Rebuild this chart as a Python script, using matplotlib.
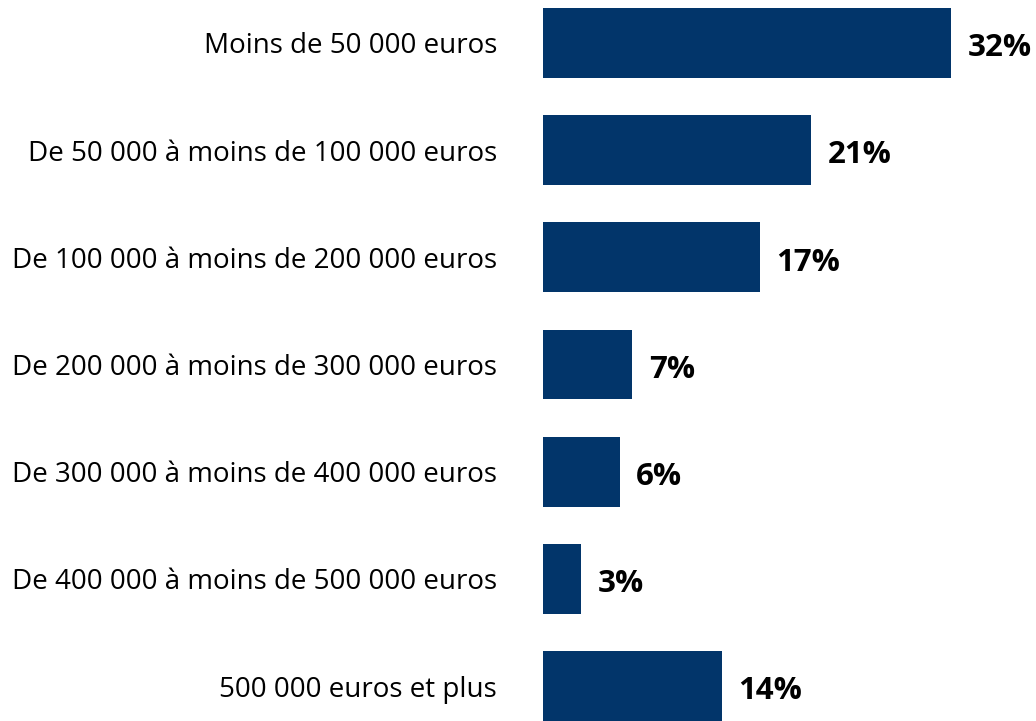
import matplotlib
matplotlib.use("Agg")
import matplotlib.pyplot as plt

categories = [
    "Moins de 50 000 euros",
    "De 50 000 à moins de 100 000 euros",
    "De 100 000 à moins de 200 000 euros",
    "De 200 000 à moins de 300 000 euros",
    "De 300 000 à moins de 400 000 euros",
    "De 400 000 à moins de 500 000 euros",
    "500 000 euros et plus",
]
values = [32, 21, 17, 7, 6, 3, 14]
value_labels = ["32%", "21%", "17%", "7%", "6%", "3%", "14%"]

bar_color = "#02356A"

plt.rcParams["font.family"] = ["Open Sans", "DejaVu Sans"]

fig = plt.figure(figsize=(10.36, 7.21), dpi=100)
ax = fig.add_axes([543 / 1036, 0.0, 484.5 / 1036, 1 - 8 / 721])

pos = list(range(len(categories)))
ax.barh(pos, values, height=0.652, color=bar_color)
ax.set_ylim(len(categories) - 1 + 0.326, -0.326)
ax.set_xlim(0, 38)

ax.set_yticks(pos)
ax.set_yticklabels(categories, fontsize=20)
ax.tick_params(axis="y", length=0, pad=33)
ax.set_xticks([])
for s in ax.spines.values():
    s.set_visible(False)

for p, v, lab in zip(pos, values, value_labels):
    ax.text(v + 1.3, p + 0.05, lab, va="center", ha="left",
            fontsize=22.5, fontweight="bold", color="black")

fig.savefig("out.png", dpi=100)
